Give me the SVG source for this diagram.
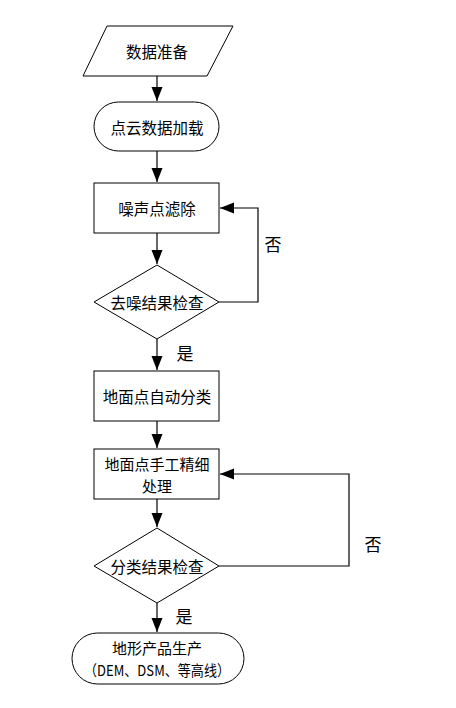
<svg xmlns="http://www.w3.org/2000/svg" width="456" height="708" viewBox="0 0 456 708">
<style>
.s{fill:#fff;stroke:#000;stroke-width:1}
.t{font-family:"Noto Sans CJK SC","Liberation Sans",sans-serif;font-size:15.5px;fill:#000;text-anchor:middle;dominant-baseline:central}
.m{font-size:15px}
.y{font-size:17px}
.c{fill:none;stroke:#000;stroke-width:1.2}
</style>
<defs>
<marker id="a" markerUnits="userSpaceOnUse" markerWidth="14" markerHeight="12" viewBox="0 0 14 12" refX="14" refY="6" orient="auto">
<path d="M0,0.5 L14,6 L0,11.5 Z" fill="#000"/>
</marker>
</defs>
<rect width="456" height="708" fill="#fff"/>
<g id="connectors">
<line class="c" x1="157" y1="76" x2="157" y2="101" marker-end="url(#a)"/>
<line class="c" x1="157" y1="151" x2="157" y2="182" marker-end="url(#a)"/>
<line class="c" x1="157" y1="233" x2="157" y2="264" marker-end="url(#a)"/>
<polyline class="c" points="219,302 258,302 258,208 220,208" marker-end="url(#a)"/>
<line class="c" x1="157" y1="339" x2="157" y2="370" marker-end="url(#a)"/>
<line class="c" x1="157" y1="421" x2="157" y2="448" marker-end="url(#a)"/>
<line class="c" x1="157" y1="499" x2="157" y2="527" marker-end="url(#a)"/>
<polyline class="c" points="219,566 349,566 349,474 220,474" marker-end="url(#a)"/>
<line class="c" x1="157" y1="603" x2="157" y2="632" marker-end="url(#a)"/>
<text class="t y" x="273" y="243">否</text>
<text class="t y" x="185" y="352">是</text>
<text class="t y" x="373" y="543">否</text>
<text class="t y" x="184" y="615">是</text>
</g>
<g id="n1">
<polygon class="s" points="107,26 233,26 207,76 83,76"/>
<text class="t" x="157" y="51">数据准备</text>
</g>
<g id="n2">
<rect class="s" x="94" y="102" width="125" height="49" rx="24.5"/>
<text class="t" x="157" y="127">点云数据加载</text>
</g>
<g id="n3">
<rect class="s" x="94" y="183" width="125" height="50"/>
<text class="t" x="157" y="208">噪声点滤除</text>
</g>
<g id="n4">
<polygon class="s" points="157,265 219,302 157,339 94,302"/>
<text class="t" x="157" y="302">去噪结果检查</text>
</g>
<g id="n5">
<rect class="s" x="94" y="371" width="125" height="50"/>
<text class="t" x="157" y="396">地面点自动分类</text>
</g>
<g id="n6">
<rect class="s" x="94" y="449" width="125" height="50"/>
<text class="t m" x="157" y="463">地面点手工精细</text>
<text class="t m" x="157" y="485">处理</text>
</g>
<g id="n7">
<polygon class="s" points="157,528 219,566 157,603 94,566"/>
<text class="t" x="157" y="566">分类结果检查</text>
</g>
<g id="n8">
<rect class="s" x="72" y="633" width="172" height="51" rx="25.5"/>
<text class="t m" x="157" y="647">地形产品生产</text>
<text class="t m" x="157" y="669" textLength="146" lengthAdjust="spacingAndGlyphs">（DEM、DSM、等高线）</text>
</g>
</svg>
